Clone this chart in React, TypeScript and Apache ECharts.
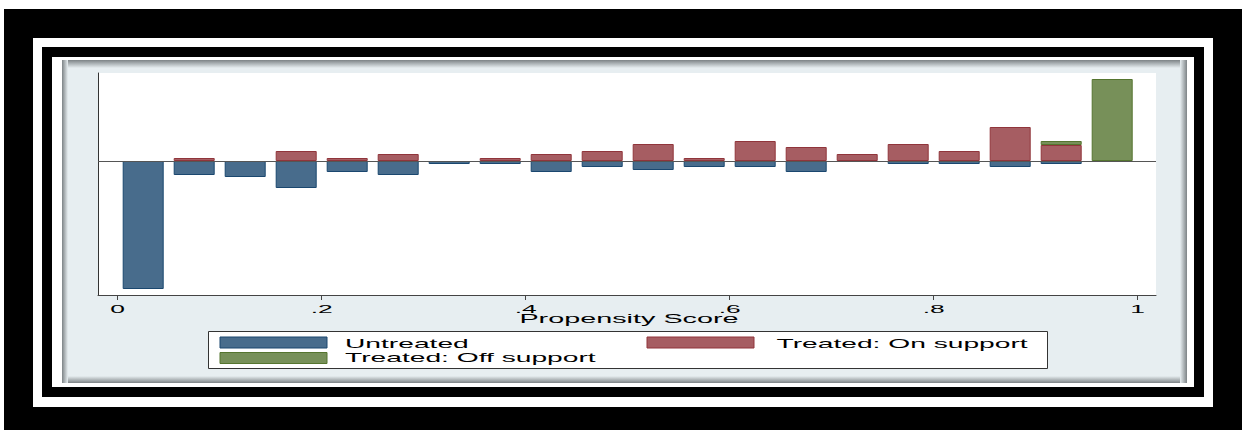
import React, { useEffect, useRef } from "react";
import * as echarts from "echarts";

// Propensity-score bins (width .05), one per category
const bins = [
  "0-.05", ".05-.1", ".1-.15", ".15-.2", ".2-.25", ".25-.3", ".3-.35", ".35-.4", ".4-.45", ".45-.5",
  ".5-.55", ".55-.6", ".6-.65", ".65-.7", ".7-.75", ".75-.8", ".8-.85", ".85-.9", ".9-.95", ".95-1",
];
// Heights (arbitrary density units, untreated mirrored below zero)
const untreated = [
  -12.8, -1.4, -1.6, -2.7, -1.1, -1.4, -0.3, -0.3, -1.1, -0.6,
  -0.9, -0.6, -0.6, -1.1, null, -0.3, -0.3, -0.6, -0.3, null,
];
const treatedOn = [
  null, 0.3, null, 1.0, 0.3, 0.7, null, 0.3, 0.7, 1.0,
  1.7, 0.3, 2.0, 1.4, 0.7, 1.7, 1.0, 3.4, 1.6, null,
];
const treatedOff = [
  null, null, null, null, null, null, null, null, null, null,
  null, null, null, null, null, null, null, null, 0.4, 8.2,
];
const xTicks = [0, 0.2, 0.4, 0.6, 0.8, 1];
const tickLabels = ["0", ".2", ".4", ".6", ".8", "1"];
const seriesNames = ["Untreated", "Treated: On support", "Treated: Off support"];
const axisTitle = "Propensity Score";

const FILLS = ["#486c8c", "#a65d62", "#779059"];
const EDGES = ["#1a476f", "#90353b", "#55752f"];
const PANEL = "#e7eef1";
const FONT = '"Liberation Sans", Arial, Helvetica, sans-serif';
const SX = 2.4;
const Y_MIN = -13.4;
const Y_MAX = 8.8;

function gradRect(x: number, y: number, w: number, h: number, dir: string) {
  const dark = "#7d8386";
  let g;
  if (dir === "top") g = new echarts.graphic.LinearGradient(0, 0, 0, 1, [{ offset: 0, color: dark }, { offset: 1, color: PANEL }]);
  else if (dir === "bottom") g = new echarts.graphic.LinearGradient(0, 0, 0, 1, [{ offset: 0, color: PANEL }, { offset: 1, color: dark }]);
  else if (dir === "left") g = new echarts.graphic.LinearGradient(0, 0, 1, 0, [{ offset: 0, color: dark }, { offset: 1, color: PANEL }]);
  else g = new echarts.graphic.LinearGradient(0, 0, 1, 0, [{ offset: 0, color: PANEL }, { offset: 1, color: dark }]);
  return { type: "rect", z: -9, silent: true, shape: { x, y, width: w, height: h }, style: { fill: g } };
}

function txt(text: string, x: number, y: number, size: number, align: string, sx: number) {
  return {
    type: "text",
    x,
    y,
    scaleX: sx,
    z: 20,
    silent: true,
    style: {
      text,
      fill: "#000",
      font: `${size}px ${FONT}`,
      textAlign: align,
      align,
      textVerticalAlign: "middle",
      verticalAlign: "middle",
    },
  };
}

export default function App() {
  const ref = useRef<HTMLDivElement>(null);
  useEffect(() => {
    if (!ref.current) return;
    const chart = echarts.init(ref.current, null, { renderer: "svg" });
    const allVals = [untreated, treatedOn, treatedOff];
    const hiddenAxis = {
      axisLine: { show: false },
      axisTick: { show: false },
      axisLabel: { show: false },
      splitLine: { show: false },
    };
    chart.setOption({
      animation: false,
      backgroundColor: "#ffffff",
      grid: [
        // bars: the 0..1 span of the score axis
        { left: 117.7, top: 73, width: 1020, height: 222, containLabel: false },
        // plot region with its axes
        { left: 98, top: 73, width: 1058, height: 222, containLabel: false },
      ],
      xAxis: [
        { type: "category", gridIndex: 0, data: bins, boundaryGap: true, ...hiddenAxis },
        {
          type: "value",
          gridIndex: 1,
          min: -0.0193,
          max: 1.018,
          axisLine: { show: true, onZero: false, lineStyle: { color: "#444", width: 1 } },
          axisTick: { show: true, customValues: xTicks, length: 5, lineStyle: { color: "#444", width: 1 } },
          axisLabel: { show: false },
          splitLine: { show: false },
        },
      ],
      yAxis: [
        { type: "value", gridIndex: 0, min: Y_MIN, max: Y_MAX, ...hiddenAxis },
        {
          type: "value",
          gridIndex: 1,
          min: Y_MIN,
          max: Y_MAX,
          axisLine: { show: true, onZero: false, lineStyle: { color: "#333", width: 1 } },
          axisTick: { show: false },
          axisLabel: { show: false },
          splitLine: { show: false },
        },
      ],
      series: [
        ...seriesNames.map((name, k) => ({
          type: "bar",
          name,
          stack: "ps",
          xAxisIndex: 0,
          yAxisIndex: 0,
          barWidth: 41,
          silent: true,
          z: 3,
          data: allVals[k],
          itemStyle: { color: FILLS[k], borderColor: EDGES[k], borderWidth: 1 },
        })),
        {
          type: "line",
          name: "zero",
          xAxisIndex: 1,
          yAxisIndex: 1,
          data: [],
          silent: true,
          z: 5,
          markLine: {
            silent: true,
            symbol: ["none", "none"],
            label: { show: false },
            lineStyle: { color: "#555", width: 1, type: "solid" },
            data: [{ yAxis: 0 }],
          },
        },
      ],
    });

    const tickPx = xTicks.map((v) => chart.convertToPixel({ xAxisIndex: 1 }, v) as number);
    const elements: any[] = [
      { type: "rect", z: -12, silent: true, shape: { x: 4, y: 9, width: 1238, height: 430 }, style: { fill: "#000" } },
      { type: "rect", z: -11.5, silent: true, shape: { x: 33, y: 38, width: 1180, height: 369 }, style: { fill: "#fff" } },
      { type: "rect", z: -11, silent: true, shape: { x: 42, y: 47, width: 1162, height: 350 }, style: { fill: "#000" } },
      { type: "rect", z: -10.5, silent: true, shape: { x: 52, y: 57, width: 1142, height: 330 }, style: { fill: "#fff" } },
      { type: "rect", z: -10, silent: true, shape: { x: 62, y: 60, width: 1125, height: 323 }, style: { fill: PANEL } },
      gradRect(62, 60, 1125, 8, "top"),
      gradRect(62, 376, 1125, 7, "bottom"),
      gradRect(62, 60, 6, 323, "left"),
      gradRect(1180, 60, 7, 323, "right"),
      { type: "rect", z: -8, silent: true, shape: { x: 98, y: 73, width: 1058, height: 222 }, style: { fill: "#fff" } },
      // legend box
      { type: "rect", z: 10, silent: true, shape: { x: 208.5, y: 331.5, width: 839, height: 37 }, style: { fill: "#fff", stroke: "#333", lineWidth: 1 } },
      { type: "rect", z: 11, silent: true, shape: { x: 220, y: 337, width: 107, height: 11 }, style: { fill: FILLS[0], stroke: EDGES[0], lineWidth: 1 } },
      { type: "rect", z: 11, silent: true, shape: { x: 647, y: 337, width: 107, height: 11 }, style: { fill: FILLS[1], stroke: EDGES[1], lineWidth: 1 } },
      { type: "rect", z: 11, silent: true, shape: { x: 220, y: 352.5, width: 107, height: 11 }, style: { fill: FILLS[2], stroke: EDGES[2], lineWidth: 1 } },
      txt(seriesNames[0], 345, 343.5, 12, "left", 2.35),
      txt(seriesNames[1], 776.5, 343.5, 12, "left", 2.35),
      txt(seriesNames[2], 345, 358, 12, "left", 2.35),
      txt(axisTitle, 629, 319, 12, "center", SX),
    ];
    tickLabels.forEach((t, i) => elements.push(txt(t, tickPx[i], 309.5, 11, "center", SX)));
    chart.setOption({ graphic: { elements } });

    return () => chart.dispose();
  }, []);
  return <div ref={ref} style={{ position: "fixed", left: 0, top: 0, width: 1244, height: 430 }} />;
}
